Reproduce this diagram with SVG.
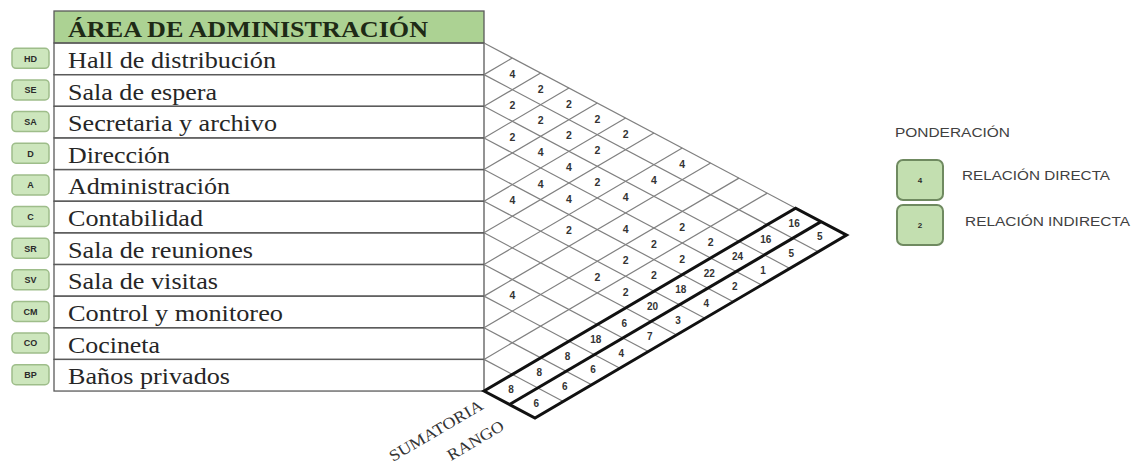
<svg xmlns="http://www.w3.org/2000/svg" width="1142" height="470" viewBox="0 0 1142 470">
<defs>
<style>
.bg{fill:#ffffff}
.tline{stroke:#5a5a5a;stroke-width:1.3;fill:none}
.hdr{fill:#acd293;stroke:#5a5a5a;stroke-width:1.3}
.lbl{font-family:"Liberation Serif","Times New Roman",serif;font-size:23px;fill:#262626}
.htxt{font-family:"Liberation Serif","Times New Roman",serif;font-size:23px;font-weight:bold;fill:#1e2a16}
.badge{fill:#cde6bd;stroke:#9ebd8a;stroke-width:1.5}
.btxt{font-family:"Liberation Sans",Arial,sans-serif;font-size:9px;font-weight:bold;fill:#2b2b2b;text-anchor:middle}
.ltxt{font-family:"Liberation Sans",Arial,sans-serif;font-size:8px;font-weight:bold;fill:#2b2b2b;text-anchor:middle}
.g{stroke:#808080;stroke-width:1.2;fill:none}
.thick{stroke:#111;stroke-width:3;fill:none;stroke-linejoin:miter}
.num{font-family:"Liberation Sans",Arial,sans-serif;font-size:10.5px;font-weight:bold;fill:#333;text-anchor:middle}
.snum{font-family:"Liberation Sans",Arial,sans-serif;font-size:10px;font-weight:bold;fill:#333;text-anchor:middle}
.rot{font-family:"Liberation Serif","Times New Roman",serif;font-size:16px;fill:#333}
.leg{font-family:"Liberation Sans",Arial,sans-serif;font-size:12.5px;fill:#404040}
.lbox{fill:#c3dfb0;stroke:#6f8a60;stroke-width:2}
</style>
</defs>
<rect class="bg" x="0" y="0" width="1142" height="470"/>

<!-- header -->
<g id="header">
<rect class="hdr" x="54" y="11" width="430" height="32"/>
<text class="htxt" x="68" y="37.3" textLength="360" lengthAdjust="spacingAndGlyphs">ÁREA DE ADMINISTRACIÓN</text>
</g>

<!-- rows -->
<g id="row-HD">
<rect class="badge" x="12" y="48.3" width="37" height="20" rx="4"/>
<text class="btxt" x="30.5" y="61.6">HD</text>
<rect class="tline" x="54" y="43" width="430" height="31.64"/>
<text class="lbl" x="68" y="67.8" textLength="208" lengthAdjust="spacingAndGlyphs">Hall de distribución</text>
</g>
<g id="row-SE">
<rect class="badge" x="12" y="79.9" width="37" height="20" rx="4"/>
<text class="btxt" x="30.5" y="93.2">SE</text>
<rect class="tline" x="54" y="74.64" width="430" height="31.64"/>
<text class="lbl" x="68" y="99.5" textLength="149" lengthAdjust="spacingAndGlyphs">Sala de espera</text>
</g>
<g id="row-SA">
<rect class="badge" x="12" y="111.6" width="37" height="20" rx="4"/>
<text class="btxt" x="30.5" y="124.9">SA</text>
<rect class="tline" x="54" y="106.28" width="430" height="31.64"/>
<text class="lbl" x="68" y="131.1" textLength="209" lengthAdjust="spacingAndGlyphs">Secretaria y archivo</text>
</g>
<g id="row-D">
<rect class="badge" x="12" y="143.2" width="37" height="20" rx="4"/>
<text class="btxt" x="30.5" y="156.5">D</text>
<rect class="tline" x="54" y="137.92" width="430" height="31.64"/>
<text class="lbl" x="68" y="162.7" textLength="102" lengthAdjust="spacingAndGlyphs">Dirección</text>
</g>
<g id="row-A">
<rect class="badge" x="12" y="174.9" width="37" height="20" rx="4"/>
<text class="btxt" x="30.5" y="188.2">A</text>
<rect class="tline" x="54" y="169.56" width="430" height="31.64"/>
<text class="lbl" x="68" y="194.4" textLength="162" lengthAdjust="spacingAndGlyphs">Administración</text>
</g>
<g id="row-C">
<rect class="badge" x="12" y="206.5" width="37" height="20" rx="4"/>
<text class="btxt" x="30.5" y="219.8">C</text>
<rect class="tline" x="54" y="201.2" width="430" height="31.64"/>
<text class="lbl" x="68" y="226.0" textLength="135" lengthAdjust="spacingAndGlyphs">Contabilidad</text>
</g>
<g id="row-SR">
<rect class="badge" x="12" y="238.2" width="37" height="20" rx="4"/>
<text class="btxt" x="30.5" y="251.5">SR</text>
<rect class="tline" x="54" y="232.84" width="430" height="31.64"/>
<text class="lbl" x="68" y="257.7" textLength="185" lengthAdjust="spacingAndGlyphs">Sala de reuniones</text>
</g>
<g id="row-SV">
<rect class="badge" x="12" y="269.8" width="37" height="20" rx="4"/>
<text class="btxt" x="30.5" y="283.1">SV</text>
<rect class="tline" x="54" y="264.48" width="430" height="31.64"/>
<text class="lbl" x="68" y="289.3" textLength="150" lengthAdjust="spacingAndGlyphs">Sala de visitas</text>
</g>
<g id="row-CM">
<rect class="badge" x="12" y="301.4" width="37" height="20" rx="4"/>
<text class="btxt" x="30.5" y="314.7">CM</text>
<rect class="tline" x="54" y="296.12" width="430" height="31.64"/>
<text class="lbl" x="68" y="320.9" textLength="215" lengthAdjust="spacingAndGlyphs">Control y monitoreo</text>
</g>
<g id="row-CO">
<rect class="badge" x="12" y="333.1" width="37" height="20" rx="4"/>
<text class="btxt" x="30.5" y="346.4">CO</text>
<rect class="tline" x="54" y="327.76" width="430" height="31.64"/>
<text class="lbl" x="68" y="352.6" textLength="92" lengthAdjust="spacingAndGlyphs">Cocineta</text>
</g>
<g id="row-BP">
<rect class="badge" x="12" y="364.7" width="37" height="20" rx="4"/>
<text class="btxt" x="30.5" y="378.0">BP</text>
<rect class="tline" x="54" y="359.4" width="430" height="31.64"/>
<text class="lbl" x="68" y="384.2" textLength="162" lengthAdjust="spacingAndGlyphs">Baños privados</text>
</g>

<!-- grid lines -->
<g id="connectors">
<g class="g">
<line x1="484" y1="43" x2="846.57" y2="235.16"/>
<line x1="484" y1="74.64" x2="818.25" y2="251.79"/>
<line x1="484" y1="106.28" x2="789.92" y2="268.42"/>
<line x1="484" y1="137.92" x2="761.59" y2="285.04"/>
<line x1="484" y1="169.56" x2="733.27" y2="301.67"/>
<line x1="484" y1="201.2" x2="704.94" y2="318.30"/>
<line x1="484" y1="232.84" x2="676.62" y2="334.93"/>
<line x1="484" y1="264.48" x2="648.29" y2="351.55"/>
<line x1="484" y1="296.12" x2="619.96" y2="368.18"/>
<line x1="484" y1="327.76" x2="591.64" y2="384.81"/>
<line x1="484" y1="359.4" x2="563.31" y2="401.44"/>
<line x1="484" y1="74.64" x2="512.33" y2="58.01"/>
<line x1="484" y1="106.28" x2="540.65" y2="73.03"/>
<line x1="484" y1="137.92" x2="568.98" y2="88.04"/>
<line x1="484" y1="169.56" x2="597.30" y2="103.05"/>
<line x1="484" y1="201.2" x2="625.63" y2="118.07"/>
<line x1="484" y1="232.84" x2="653.96" y2="133.08"/>
<line x1="484" y1="264.48" x2="682.28" y2="148.09"/>
<line x1="484" y1="296.12" x2="710.61" y2="163.10"/>
<line x1="484" y1="327.76" x2="738.93" y2="178.12"/>
<line x1="484" y1="359.4" x2="767.26" y2="193.13"/>
</g>
<g class="thick">
<polygon points="484,391.04 795.59,208.14 846.57,235.16 534.99,418.06"/>
<line x1="509.49" y1="404.55" x2="821.08" y2="221.65"/>
</g>
</g>

<!-- relation values -->
<g id="values">
<text class="num" x="512.33" y="77.6">4</text>
<text class="num" x="540.65" y="92.6">2</text>
<text class="num" x="512.33" y="109.3">2</text>
<text class="num" x="568.98" y="107.7">2</text>
<text class="num" x="540.65" y="124.3">2</text>
<text class="num" x="597.30" y="122.7">2</text>
<text class="num" x="512.33" y="140.9">2</text>
<text class="num" x="568.98" y="139.3">2</text>
<text class="num" x="625.63" y="137.7">2</text>
<text class="num" x="540.65" y="155.9">4</text>
<text class="num" x="597.30" y="154.3">2</text>
<text class="num" x="682.28" y="167.7">4</text>
<text class="num" x="568.98" y="170.9">4</text>
<text class="num" x="653.96" y="184.3">4</text>
<text class="num" x="540.65" y="187.6">4</text>
<text class="num" x="597.30" y="186.0">2</text>
<text class="num" x="512.33" y="204.2">4</text>
<text class="num" x="568.98" y="202.6">4</text>
<text class="num" x="625.63" y="201.0">4</text>
<text class="num" x="568.98" y="234.2">2</text>
<text class="num" x="625.63" y="232.6">4</text>
<text class="num" x="682.28" y="231.0">2</text>
<text class="num" x="653.96" y="247.6">2</text>
<text class="num" x="710.61" y="246.0">2</text>
<text class="num" x="625.63" y="264.2">2</text>
<text class="num" x="682.28" y="262.6">2</text>
<text class="num" x="597.30" y="280.9">2</text>
<text class="num" x="653.96" y="279.3">2</text>
<text class="num" x="512.33" y="299.1">4</text>
<text class="num" x="625.63" y="295.9">2</text>
</g>

<!-- sums -->
<g id="sumatoria">
<text class="snum" x="794.17" y="226.8">16</text>
<text class="snum" x="765.84" y="243.4">16</text>
<text class="snum" x="737.52" y="260.1">24</text>
<text class="snum" x="709.19" y="276.7">22</text>
<text class="snum" x="680.87" y="293.3">18</text>
<text class="snum" x="652.54" y="309.9">20</text>
<text class="snum" x="624.21" y="326.6">6</text>
<text class="snum" x="595.89" y="343.2">18</text>
<text class="snum" x="567.56" y="359.8">8</text>
<text class="snum" x="539.24" y="376.4">8</text>
<text class="snum" x="510.91" y="393.1">8</text>
<text class="rot" transform="translate(393,462) rotate(-30.4)" textLength="106" lengthAdjust="spacingAndGlyphs">SUMATORIA</text>
</g>
<g id="rango">
<text class="snum" x="819.66" y="240.3">5</text>
<text class="snum" x="791.33" y="256.9">5</text>
<text class="snum" x="763.01" y="273.6">1</text>
<text class="snum" x="734.68" y="290.2">2</text>
<text class="snum" x="706.36" y="306.8">4</text>
<text class="snum" x="678.03" y="323.5">3</text>
<text class="snum" x="649.70" y="340.1">7</text>
<text class="snum" x="621.38" y="356.7">4</text>
<text class="snum" x="593.05" y="373.3">6</text>
<text class="snum" x="564.73" y="390.0">6</text>
<text class="snum" x="536.40" y="406.6">6</text>
<text class="rot" transform="translate(451,461) rotate(-30.4)" textLength="63" lengthAdjust="spacingAndGlyphs">RANGO</text>
</g>

<!-- legend -->
<g id="legend">
<text class="leg" x="895" y="137" textLength="115" lengthAdjust="spacingAndGlyphs">PONDERACIÓN</text>
</g>
<g id="legend-directa">
<rect class="lbox" x="897" y="160" width="46" height="40" rx="6"/>
<text class="ltxt" x="920" y="183">4</text>
<text class="leg" x="962" y="180" textLength="148" lengthAdjust="spacingAndGlyphs">RELACIÓN DIRECTA</text>
</g>
<g id="legend-indirecta">
<rect class="lbox" x="897" y="205" width="46" height="40" rx="6"/>
<text class="ltxt" x="920" y="228">2</text>
<text class="leg" x="965" y="226" textLength="165" lengthAdjust="spacingAndGlyphs">RELACIÓN INDIRECTA</text>
</g>
</svg>
